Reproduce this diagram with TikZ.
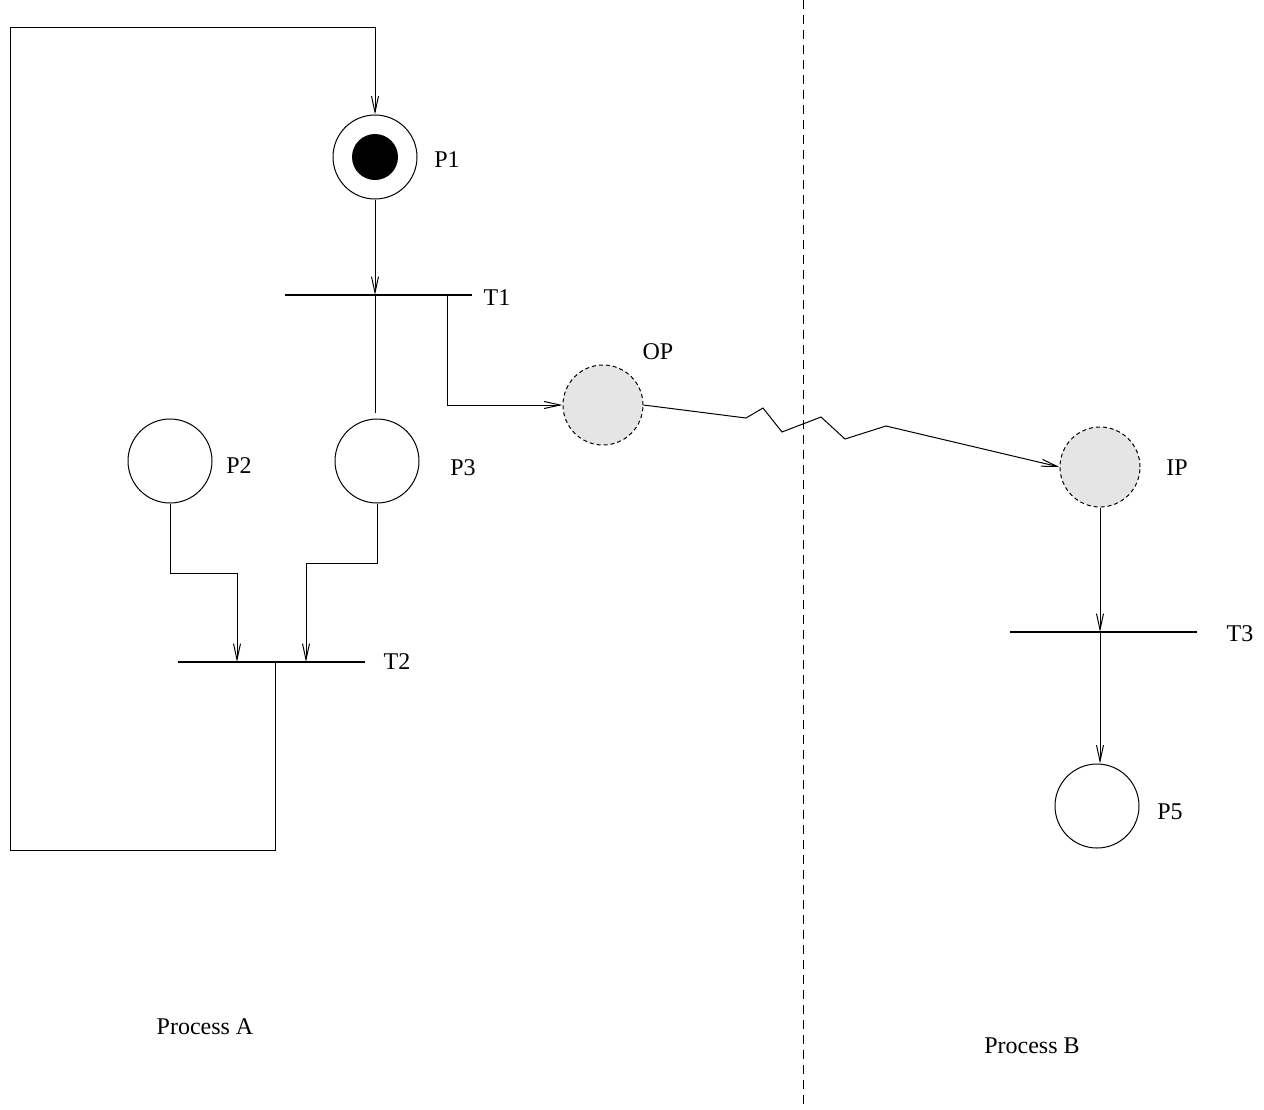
\documentclass[tikz,border=0pt]{standalone}
\usepackage{fontspec}
\setmainfont{Liberation Serif}
\usetikzlibrary{arrows.meta}

\begin{document}
\begin{tikzpicture}[x=0.5pt, y=-0.5pt, line width=0.5pt,
  every node/.style={font=\fontsize{12}{14}\selectfont},
  place/.style={circle, draw, minimum size=42pt, inner sep=0pt},
  iface/.style={place, dash pattern=on 2pt off 1.5pt, fill=gray!20, minimum size=40pt},
  token/.style={circle, fill=black, minimum size=23pt, inner sep=0pt},
  trans/.style={fill=black, inner sep=0pt, minimum width=93.5pt, minimum height=1.1pt},
  arc/.style={-{Straight Barb[length=8pt, width=3.5pt]}},
  divider/.style={dash pattern=on 4.5pt off 3pt}]
\useasboundingbox (0,0) rectangle (1264,1109);

\node[place] (p1) at (375,157) {};
\node[token] (tok) at (p1) {};
\node[place] (p2) at (170,461) {};
\node[place] (p3) at (377,461) {};
\node[iface] (op) at (603,405) {};
\node[iface] (ip) at (1100,467) {};
\node[place] (p5) at (1097,806) {};

\node[trans] (t1) at (378,295) {};
\node[trans] (t2) at (271.5,662) {};
\node[trans] (t3) at (1103.5,632) {};

\node[anchor=center] (lp1) at (447,160) {P1};
\node[anchor=center] (lp2) at (239,466) {P2};
\node[anchor=center] (lp3) at (463,468) {P3};
\node[anchor=center] (lop) at (658,352) {OP};
\node[anchor=center] (lip) at (1177,468) {IP};
\node[anchor=center] (lp5) at (1170,812) {P5};
\node[anchor=center] (lt1) at (497,298) {T1};
\node[anchor=center] (lt2) at (397,662) {T2};
\node[anchor=center] (lt3) at (1240,634) {T3};
\node[anchor=center] (procA) at (205,1027) {Process A};
\node[anchor=center] (procB) at (1032,1046) {Process B};

\draw[arc] (p1.south) -- (p1.south |- t1.center);
\draw (p1.south |- t1.center) -- ([yshift=3pt]p1.south |- p3.north);
\draw[arc] ([xshift=34.5pt]t1.center) |- (op.west);
\draw[arc] (op.east) -- (746,418) -- (763,408) -- (782,432) -- (821,417) -- (845,439) -- (886,426) -- (ip.west);
\draw[arc] (p2.south) -- (p2.south |- 0,573) -| ([xshift=-17.25pt]t2.center);
\draw[arc] (p3.south) -- (p3.south |- 0,563) -| ([xshift=17.25pt]t2.center);
\draw[arc] ([xshift=2pt]t2.center) -- ([xshift=2pt]t2.center |- 0,850) -- (10,850) -- (10,27) -- (p1.north |- 0,27) -- (p1.north);
\draw[arc] (ip.south) -- (ip.south |- t3.center);
\draw[arc] (ip.south |- t3.center) -- (ip.south |- p5.north);

\draw[divider] (803,0) -- (803,1109);
\end{tikzpicture}
\end{document}
